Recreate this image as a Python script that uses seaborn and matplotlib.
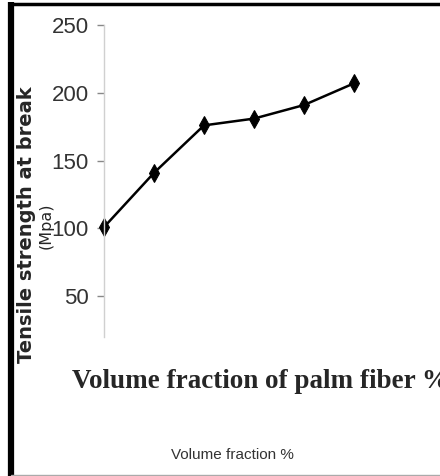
import numpy as np
import pandas as pd
import matplotlib
matplotlib.use("Agg")
import matplotlib.pyplot as plt
import seaborn as sns
from matplotlib.lines import Line2D

# values
volume_fraction = [0, 5, 10, 15, 20, 25]
tensile_strength = [101, 141, 176, 181, 191, 207]
y_ticks = [50, 100, 150, 200, 250]

df = pd.DataFrame({"vf": volume_fraction, "ts": tensile_strength})

sns.set_style("white")
plt.rcParams["font.family"] = ["Liberation Sans", "DejaVu Sans"]

fig = plt.figure(figsize=(4.4, 4.76), dpi=100)
ax = fig.add_axes([104 / 440, 1 - 337 / 476, 300 / 440, 312 / 476])

sns.lineplot(data=df, x="vf", y="ts", ax=ax, color="black", linewidth=1.8,
             marker="d", markersize=9, markeredgecolor="black",
             markerfacecolor="black")

ax.set_xlim(0, 30)
ax.set_ylim(20, 250)
ax.set_yticks(y_ticks)
ax.set_yticklabels([str(t) for t in y_ticks])
ax.set_xticks([])
ax.set_xlabel("")
ax.set_ylabel("")
for side in ["top", "right", "bottom"]:
    ax.spines[side].set_visible(False)
ax.spines["left"].set_color("#d0d0d0")
ax.spines["left"].set_linewidth(1.0)
ax.tick_params(axis="y", direction="out", length=5, width=1, color="#888888",
               labelsize=16, labelcolor="#333333", pad=6, left=True)
for line in ax.lines:
    line.set_clip_on(False)

# rotated y label, two lines placed separately
fig.text(27 / 440, 1 - 225 / 476, "Tensile strength at break", rotation=90,
         ha="center", va="center", fontsize=14, fontweight="bold",
         family=["DejaVu Sans"])
fig.text(46.5 / 440, 1 - 226 / 476, "(Mpa)", rotation=90,
         ha="center", va="center", fontsize=11.5, fontweight="normal",
         family=["DejaVu Sans"])

fig.text(72 / 440, 1 - 381 / 476, "Volume fraction of palm fiber %",
         ha="left", va="center", fontsize=19.5, fontweight="bold",
         family=["Liberation Serif", "DejaVu Serif"])
fig.text(232 / 440, 1 - 455 / 476, "Volume fraction %",
         ha="center", va="center", fontsize=11, color="#333333",
         family=["Liberation Sans", "DejaVu Sans"])

# page frame
fig.add_artist(Line2D([11 / 440, 11 / 440], [0, 1 - 2 / 476], transform=fig.transFigure,
                      color="black", linewidth=4.5, solid_capstyle="butt"))
fig.add_artist(Line2D([14.5 / 440, 14.5 / 440], [0, 1 - 6 / 476], transform=fig.transFigure,
                      color="white", linewidth=0.6, linestyle=(0, (2, 2))))
fig.add_artist(Line2D([11 / 440, 1], [1 - 3.5 / 476, 1 - 3.5 / 476], transform=fig.transFigure,
                      color="black", linewidth=2.5, solid_capstyle="butt"))
fig.add_artist(Line2D([11 / 440, 1], [1 - 475 / 476, 1 - 475 / 476], transform=fig.transFigure,
                      color="#aaaaaa", linewidth=1.0))

fig.savefig("out.png", dpi=100)
